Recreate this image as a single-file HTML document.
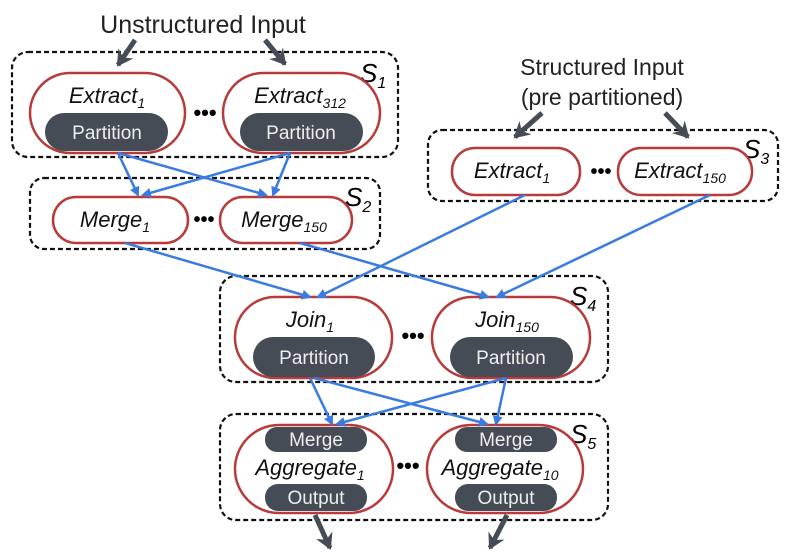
<!DOCTYPE html>
<html><head><meta charset="utf-8"><style>
body{margin:0;background:#fff}
svg{display:block}
text{font-family:"Liberation Sans",sans-serif}
.it{font-style:italic;font-size:22px;fill:#111}
.sub{font-size:14px}
.pl{font-size:19px;fill:#eee}
.box{fill:none;stroke:#111;stroke-width:2.2;stroke-dasharray:5 3}
.node{fill:#fff;stroke:#b83a3a;stroke-width:2.5}
.pill{fill:#454c55}
.bl{stroke:#3a7be0;stroke-width:2.5;fill:none;marker-end:url(#ab)}
.gr{stroke:#454c55;stroke-width:5;fill:none;marker-end:url(#ag)}
</style></head><body>
<svg width="794" height="552" viewBox="0 0 794 552" xmlns="http://www.w3.org/2000/svg">
<defs>
<marker id="ab" markerWidth="10" markerHeight="10" refX="8" refY="5" orient="auto" markerUnits="userSpaceOnUse"><path d="M0,0 L10,5 L0,10 z" fill="#3a7be0"/></marker>
<marker id="ag" markerWidth="18" markerHeight="18" refX="14" refY="9" orient="auto" markerUnits="userSpaceOnUse"><path d="M0,0 L16,9 L0,18 L5,9 z" fill="#454c55"/></marker>
</defs>
<text x="203" y="33" text-anchor="middle" font-size="25" fill="#222">Unstructured Input</text>
<text x="602" y="75" text-anchor="middle" font-size="23" fill="#222">Structured Input</text>
<text x="602" y="105" text-anchor="middle" font-size="23" fill="#222">(pre partitioned)</text>

<!-- S1 -->
<rect class="box" x="12" y="52" width="386" height="105" rx="16"/>
<text x="360" y="82" font-size="26" font-style="italic">S<tspan font-size="16" dy="6">1</tspan></text>
<rect class="node" x="30" y="73" width="155" height="80" rx="40"/>
<rect class="pill" x="45" y="113" width="123" height="38" rx="19"/>
<text class="it" x="107" y="103" text-anchor="middle">Extract<tspan class="sub" dy="5">1</tspan></text>
<text class="pl" x="107" y="139" text-anchor="middle">Partition</text>
<text x="205" y="120" font-size="22" text-anchor="middle" font-weight="bold">•••</text>
<rect class="node" x="223" y="73" width="157" height="80" rx="40"/>
<rect class="pill" x="240" y="113" width="123" height="38" rx="19"/>
<text class="it" x="300" y="103" text-anchor="middle">Extract<tspan class="sub" dy="5">312</tspan></text>
<text class="pl" x="301" y="139" text-anchor="middle">Partition</text>

<!-- S2 -->
<rect class="box" x="30" y="178" width="350" height="71" rx="14"/>
<text x="345" y="206" font-size="26" font-style="italic">S<tspan font-size="16" dy="6">2</tspan></text>
<rect class="node" x="53" y="197" width="135" height="46" rx="23"/>
<text class="it" x="115" y="227" text-anchor="middle">Merge<tspan class="sub" dy="5">1</tspan></text>
<text x="204" y="226" font-size="20" text-anchor="middle" font-weight="bold">•••</text>
<rect class="node" x="220" y="197" width="132" height="46" rx="23"/>
<text class="it" x="284" y="227" text-anchor="middle">Merge<tspan class="sub" dy="5">150</tspan></text>

<!-- S3 -->
<rect class="box" x="428" y="130" width="350" height="71" rx="14"/>
<text x="743" y="158" font-size="26" font-style="italic">S<tspan font-size="16" dy="6">3</tspan></text>
<rect class="node" x="452" y="148" width="128" height="47" rx="23"/>
<text class="it" x="512" y="178" text-anchor="middle">Extract<tspan class="sub" dy="5">1</tspan></text>
<text x="601" y="178" font-size="20" text-anchor="middle" font-weight="bold">•••</text>
<rect class="node" x="618" y="148" width="134" height="47" rx="23"/>
<text class="it" x="680" y="178" text-anchor="middle">Extract<tspan class="sub" dy="5">150</tspan></text>

<!-- S4 -->
<rect class="box" x="220" y="276" width="388" height="106" rx="16"/>
<text x="570" y="305" font-size="26" font-style="italic">S<tspan font-size="16" dy="6">4</tspan></text>
<rect class="node" x="235" y="297" width="157" height="81" rx="40"/>
<rect class="pill" x="253" y="337" width="122" height="40" rx="20"/>
<text class="it" x="310" y="327" text-anchor="middle">Join<tspan class="sub" dy="5">1</tspan></text>
<text class="pl" x="314" y="364" text-anchor="middle">Partition</text>
<text x="413" y="343" font-size="22" text-anchor="middle" font-weight="bold">•••</text>
<rect class="node" x="432" y="297" width="158" height="81" rx="40"/>
<rect class="pill" x="450" y="337" width="123" height="40" rx="20"/>
<text class="it" x="507" y="327" text-anchor="middle">Join<tspan class="sub" dy="5">150</tspan></text>
<text class="pl" x="511" y="364" text-anchor="middle">Partition</text>

<!-- S5 -->
<rect class="box" x="220" y="414" width="388" height="106" rx="16"/>
<text x="570" y="443" font-size="26" font-style="italic">S<tspan font-size="16" dy="6">5</tspan></text>
<rect class="node" x="235" y="425" width="158" height="88" rx="44"/>
<rect class="pill" x="265" y="427" width="102" height="25" rx="12"/>
<rect class="pill" x="265" y="484" width="102" height="27" rx="13"/>
<text class="pl" x="316" y="446" text-anchor="middle" font-size="18">Merge</text>
<text class="it" x="310" y="475" text-anchor="middle">Aggregate<tspan class="sub" dy="5">1</tspan></text>
<text class="pl" x="316" y="504" text-anchor="middle" font-size="18">Output</text>
<text x="408" y="473" font-size="22" text-anchor="middle" font-weight="bold">•••</text>
<rect class="node" x="427" y="425" width="156" height="88" rx="44"/>
<rect class="pill" x="455" y="427" width="102" height="25" rx="12"/>
<rect class="pill" x="455" y="484" width="102" height="27" rx="13"/>
<text class="pl" x="506" y="446" text-anchor="middle" font-size="18">Merge</text>
<text class="it" x="500" y="475" text-anchor="middle">Aggregate<tspan class="sub" dy="5">10</tspan></text>
<text class="pl" x="506" y="504" text-anchor="middle" font-size="18">Output</text>

<!-- blue arrows -->
<path class="bl" d="M118,153 L138,195"/>
<path class="bl" d="M118,153 L266,195"/>
<path class="bl" d="M290,153 L143,195"/>
<path class="bl" d="M290,153 L273,195"/>
<path class="bl" d="M125,243 L310,297"/>
<path class="bl" d="M300,243 L488,297"/>
<path class="bl" d="M525,195 L318,297"/>
<path class="bl" d="M710,195 L497,297"/>
<path class="bl" d="M310,378 L332,424"/>
<path class="bl" d="M314,378 L487,424"/>
<path class="bl" d="M506,378 L337,424"/>
<path class="bl" d="M506,378 L496,424"/>

<!-- gray arrows -->
<path class="gr" d="M135,40 L118,65"/>
<path class="gr" d="M265,40 L285,64"/>
<path class="gr" d="M542,113 L515,137"/>
<path class="gr" d="M665,113 L688,137"/>
<path class="gr" d="M315,515 L330,548"/>
<path class="gr" d="M507,515 L490,548"/>
</svg>
</body></html>
